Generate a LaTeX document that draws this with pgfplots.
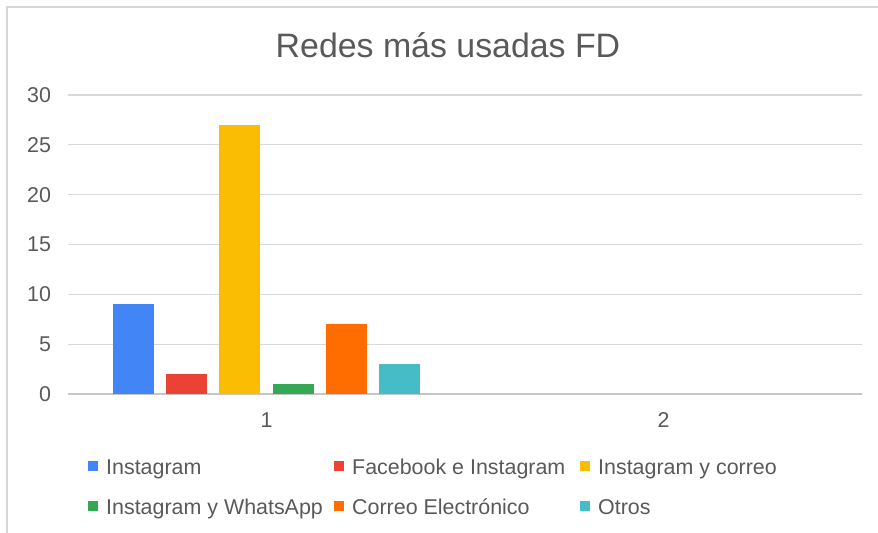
\documentclass[border=0pt]{standalone}
\usepackage{pgfplots}
\pgfplotsset{compat=1.18}
\usepackage{fontspec}
\setmainfont{Liberation Sans}

\definecolor{cInsta}{HTML}{4285F4}
\definecolor{cFace}{HTML}{EA4335}
\definecolor{cCorreoIg}{HTML}{FBBC04}
\definecolor{cWhats}{HTML}{34A853}
\definecolor{cCorreo}{HTML}{FF6D01}
\definecolor{cOtros}{HTML}{46BDC6}
\definecolor{textgray}{HTML}{595959}
\definecolor{gridgray}{HTML}{D9D9D9}
\definecolor{framegray}{HTML}{D6D6D6}

% one legend entry: fixed column width, same height for every row
\newcommand{\entry}[1]{\makebox[236bp][l]{\hspace{8bp}\strut #1}}

\begin{document}
\begin{tikzpicture}[x=1bp,y=1bp]
\useasboundingbox (0,0) rectangle (878,533);
% frame of the chart box (cropped at right and bottom)
\draw[line width=2bp, framegray] (7,0) -- (7,526) -- (878,526);
\node[font=\fontsize{34}{40}\selectfont, text=textgray] at (448,488) {Redes más usadas FD};

\begin{axis}[
    at={(68bp,139bp)}, anchor=south west,
    scale only axis, width=794bp, height=299bp,
    ybar=12.2bp, bar width=41bp,
    xmin=0.5, xmax=2.5, ymin=0, ymax=30,
    xtick={1,2}, ytick={0,5,...,30},
    ymajorgrids, grid style={draw=gridgray, line width=1.3bp},
    extra y ticks={0}, extra y tick labels={},
    extra y tick style={grid style={draw=gray!45, line width=1.3bp}},
    axis line style={draw=none}, major tick length=0pt,
    tick label style={font=\fontsize{21.5}{26}\selectfont, text=textgray},
    /pgf/number format/assume math mode=true,
    yticklabel style={xshift=-13.5bp},
    xticklabel style={yshift=-15bp},
    legend columns=3,
    legend style={at={(axis description cs:0.0252,-0.207)}, anchor=north west,
        draw=none, fill=none, inner sep=0pt, row sep=20.5bp,
        nodes={inner sep=0pt},
        font=\fontsize{21.5}{26}\selectfont, text=textgray,
        /tikz/every even column/.append style={column sep=0pt}},
    every axis plot post/.append style={
        legend image code/.code={\fill[##1] (0bp,-5bp) rectangle (10bp,5bp);}},
]
\addplot[fill=cInsta, draw=none] coordinates {(1,9)};
\addlegendentry{\entry{Instagram}}
\addplot[fill=cFace, draw=none] coordinates {(1,2)};
\addlegendentry{\entry{Facebook e Instagram}}
\addplot[fill=cCorreoIg, draw=none] coordinates {(1,27)};
\addlegendentry{\entry{Instagram y correo}}
\addplot[fill=cWhats, draw=none] coordinates {(1,1)};
\addlegendentry{\entry{Instagram y WhatsApp}}
\addplot[fill=cCorreo, draw=none] coordinates {(1,7)};
\addlegendentry{\entry{Correo Electrónico}}
\addplot[fill=cOtros, draw=none] coordinates {(1,3)};
\addlegendentry{\entry{Otros}}
\end{axis}
\end{tikzpicture}
\end{document}
